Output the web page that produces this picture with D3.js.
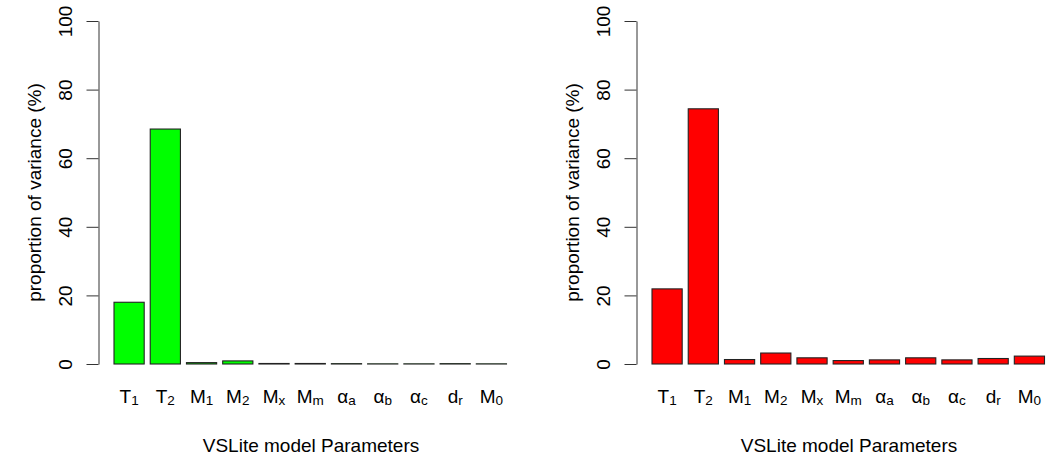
<!DOCTYPE html>
<html>
<head>
<meta charset="utf-8">
<script src="https://cdn.jsdelivr.net/npm/d3@7"></script>
<style>
  body { margin: 0; background: #fff; }
  text { font-family: "Liberation Sans", Arial, sans-serif; fill: #000; }
</style>
</head>
<body>
<script>
const w = 1048; // width
const h = 459;  // height

// parameter labels (base + subscript)
const labelBase = ["T", "T", "M", "M", "M", "M", "α", "α", "α", "d", "M"];
const labelSub = ["1", "2", "1", "2", "x", "m", "a", "b", "c", "r", "0"];
const categories = labelBase.map((b, i) => b + labelSub[i]);

// proportion of variance (%) per parameter
const greenValues = [18.0, 68.5, 0.4, 0.9, 0.15, 0.15, 0.1, 0.05, 0.05, 0.1, 0.05];
const redValues = [21.9, 74.4, 1.3, 3.2, 1.8, 1.0, 1.2, 1.8, 1.2, 1.6, 2.3];
const yTicks = [0, 20, 40, 60, 80, 100];

const yLabel = "proportion of variance (%)";
const xLabel = "VSLite model Parameters";

let svg = d3.select("body")
    .append("svg")
    .attr("width", w)
    .attr("height", h);

// scales (shared by both panels, panels are shifted)
let x = d3.scaleBand()
    .domain(categories)
    .range([114, 506.5])
    .paddingInner(0.1667)
    .paddingOuter(0);

let y = d3.scaleLinear()
    .domain([0, 100])
    .range([364, 21]);

function panel(offset, values, color) {
    let g = svg.append("g")
        .attr("transform", `translate(${offset},0)`);

    // bars
    g.selectAll("rect")
        .data(values)
        .enter()
        .append("rect")
        .attr("x", (d, i) => x(categories[i]))
        .attr("width", x.bandwidth())
        .attr("y", d => y(d))
        .attr("height", d => y(0) - y(d))
        .attr("fill", color)
        .attr("stroke", "#222")
        .attr("stroke-width", 1.1);

    // y axis
    let gY = g.append("g")
        .attr("transform", "translate(98.5,0)")
        .call(d3.axisLeft(y).tickValues(yTicks).tickSize(12).tickSizeOuter(0));
    gY.select(".domain").attr("stroke", "#333");
    gY.selectAll(".tick line").attr("stroke", "#333");
    gY.selectAll(".tick text")
        .attr("x", null)
        .attr("dy", null)
        .attr("text-anchor", "middle")
        .attr("transform", "translate(-27,0) rotate(-90)")
        .style("font-size", "19px")
        .style("font-family", "'Liberation Sans', Arial, sans-serif");

    // category labels with subscripts
    let lab = g.selectAll(".cat")
        .data(categories)
        .enter()
        .append("text")
        .attr("class", "cat")
        .attr("x", d => x(d) + x.bandwidth() / 2)
        .attr("y", 403)
        .attr("text-anchor", "middle")
        .style("font-size", "19px");
    lab.append("tspan").text((d, i) => labelBase[i]);
    lab.append("tspan")
        .attr("dy", 2)
        .style("font-size", "13.5px")
        .text((d, i) => labelSub[i]);

    // y axis label
    g.append("text")
        .attr("text-anchor", "middle")
        .attr("transform", `translate(41,${(y(0) + y(100)) / 2}) rotate(-90)`)
        .style("font-size", "19px")
        .text(yLabel);

    // x axis label
    g.append("text")
        .attr("text-anchor", "middle")
        .attr("x", 311)
        .attr("y", 452)
        .style("font-size", "19px")
        .text(xLabel);
}

panel(0, greenValues, "#00ff00");
panel(538, redValues, "#ff0000");
</script>
</body>
</html>
